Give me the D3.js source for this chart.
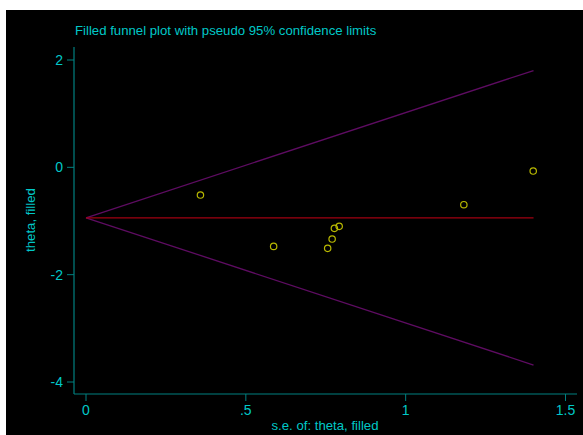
<!DOCTYPE html>
<html>
<head>
<meta charset="utf-8">
<script src="https://cdn.jsdelivr.net/npm/d3@7"></script>
<style>
  body { margin: 0; background: #fff; }
  svg { display: block; }
  text { font-family: "Liberation Sans", Arial, sans-serif; }
</style>
</head>
<body>
<div id="chart"></div>
<script>
// study estimates
var seValues    = [0.358, 0.587, 0.756, 0.770, 0.777, 0.792, 1.182, 1.399];
var thetaValues = [-0.516, -1.473, -1.51, -1.336, -1.137, -1.10, -0.696, -0.069];
var pooled = -0.94;
var seMax = 1.40;
var xTicks = [0, 0.5, 1, 1.5];
var xTickLabels = ["0", ".5", "1", "1.5"];
var yTicks = [2, 0, -2, -4];

var width = 583, height = 435;
var svg = d3.select("#chart").append("svg")
            .attr("width", width)
            .attr("height", height);

// black plot region, white margin top/left
svg.append("rect")
   .attr("x", 6).attr("y", 10)
   .attr("width", width - 6).attr("height", height - 10)
   .attr("fill", "#000");

var x = d3.scaleLinear().domain([0, 1.5]).range([86, 565.5]);
var y = d3.scaleLinear().domain([2, -4]).range([60, 382]);

var axisCol = "#008080", textCol = "#00c8c8";
var fs = 13.2;

// axis lines
svg.append("line")
   .attr("x1", 74).attr("x2", 74).attr("y1", 47).attr("y2", 394)
   .attr("stroke", axisCol).attr("stroke-width", 1.2);
svg.append("line")
   .attr("x1", 74).attr("x2", 577).attr("y1", 394).attr("y2", 394)
   .attr("stroke", axisCol).attr("stroke-width", 1.2);

// y ticks
var yg = svg.append("g");
yg.selectAll("line").data(yTicks).enter().append("line")
  .attr("x1", 67).attr("x2", 74)
  .attr("y1", function(d) { return y(d); })
  .attr("y2", function(d) { return y(d); })
  .attr("stroke", axisCol);
yg.selectAll("text").data(yTicks).enter().append("text")
  .attr("x", 63)
  .attr("y", function(d) { return y(d) + 5; })
  .attr("text-anchor", "end")
  .attr("font-size", 14)
  .attr("fill", textCol)
  .text(function(d) { return d; });

// x ticks
var xg = svg.append("g");
xg.selectAll("line").data(xTicks).enter().append("line")
  .attr("x1", function(d) { return x(d); })
  .attr("x2", function(d) { return x(d); })
  .attr("y1", 394).attr("y2", 401)
  .attr("stroke", axisCol);
xg.selectAll("text").data(xTicks).enter().append("text")
  .attr("x", function(d) { return x(d); })
  .attr("y", 415)
  .attr("text-anchor", "middle")
  .attr("font-size", 14)
  .attr("fill", textCol)
  .text(function(d, i) { return xTickLabels[i]; });

// axis titles
svg.append("text")
   .attr("x", 325).attr("y", 430)
   .attr("text-anchor", "middle")
   .attr("font-size", fs)
   .attr("fill", textCol)
   .text("s.e. of: theta, filled");
svg.append("text")
   .attr("transform", "translate(35,220) rotate(-90)")
   .attr("text-anchor", "middle")
   .attr("font-size", fs)
   .attr("fill", textCol)
   .text("theta, filled");

// title
svg.append("text")
   .attr("x", 75).attr("y", 35)
   .attr("font-size", fs)
   .attr("fill", textCol)
   .text("Filled funnel plot with pseudo 95% confidence limits");

// funnel limits
var lim = [0, seMax];
var upper = d3.line().x(function(d) { return x(d); }).y(function(d) { return y(pooled + 1.96 * d); });
var lower = d3.line().x(function(d) { return x(d); }).y(function(d) { return y(pooled - 1.96 * d); });
svg.append("path").attr("d", upper(lim))
   .attr("fill", "none").attr("stroke", "#5e0c62").attr("stroke-width", 1.3);
svg.append("path").attr("d", lower(lim))
   .attr("fill", "none").attr("stroke", "#5e0c62").attr("stroke-width", 1.3);
svg.append("line")
   .attr("x1", x(0)).attr("x2", x(seMax))
   .attr("y1", y(pooled)).attr("y2", y(pooled))
   .attr("stroke", "#a00010").attr("stroke-width", 1.2);

// points
svg.selectAll(".pt").data(seValues).enter().append("circle")
   .attr("class", "pt")
   .attr("cx", function(d) { return x(d); })
   .attr("cy", function(d, i) { return y(thetaValues[i]); })
   .attr("r", 3.2)
   .attr("fill", "none")
   .attr("stroke", "#b8b800")
   .attr("stroke-width", 1.2);
</script>
</body>
</html>
